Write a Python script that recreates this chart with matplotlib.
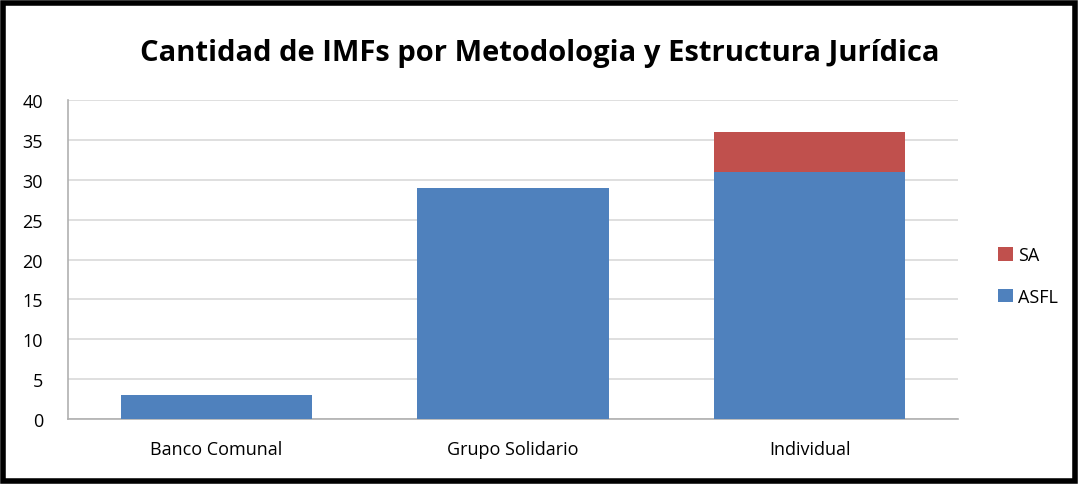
import matplotlib.pyplot as plt
from matplotlib.patches import Rectangle

# data
categories = ["Banco Comunal", "Grupo Solidario", "Individual"]
asfl = [3, 29, 31]
sa = [0, 0, 5]
y_ticks = [0, 5, 10, 15, 20, 25, 30, 35, 40]

BLUE = "#4f81bd"
RED = "#c0504d"
GRID = "#d9d9d9"
FONT = ["Open Sans", "DejaVu Sans"]

plt.rcParams["font.family"] = FONT

fig = plt.figure(figsize=(10.8, 4.85), dpi=100)
ax = fig.add_axes([68 / 1080, 1 - 420 / 485, 890 / 1080, 319 / 485])

x = range(len(categories))
ax.bar(x, asfl, width=0.645, color=BLUE, label="ASFL", zorder=3)
ax.bar(x, sa, width=0.645, bottom=asfl, color=RED, label="SA", zorder=3)

ax.set_xlim(-0.5, 2.5)
ax.set_ylim(0, 40)
ax.set_yticks(y_ticks)
ax.set_xticks(list(x))
ax.set_xticklabels(categories)
ax.tick_params(axis="both", labelsize=13, length=0, colors="#000000")
ax.tick_params(axis="x", pad=15)
ax.tick_params(axis="y", pad=18)
ax.grid(axis="y", color=GRID, linewidth=1.2, zorder=0)
for side in ["top", "right"]:
    ax.spines[side].set_visible(False)
for side in ["left", "bottom"]:
    ax.spines[side].set_color("#b0b0b0")
    ax.spines[side].set_linewidth(1.2)

handles, labels = ax.get_legend_handles_labels()
fig.legend(handles[::-1], labels[::-1], loc="center left",
           bbox_to_anchor=(982 / 1080, 1 - 277 / 485), frameon=False,
           fontsize=13, handlelength=0.8, handleheight=0.8,
           labelspacing=1.3, handletextpad=0.3)

fig.text(0.5, 1 - 53 / 485, "Cantidad de IMFs por Metodologia y Estructura Jurídica",
         ha="center", va="center", fontsize=21, fontweight="bold")

# black frame around the whole chart
fig.patches.append(Rectangle((3 / 1080, 3 / 485), 1072 / 1080, 478 / 485,
                             transform=fig.transFigure, fill=False,
                             edgecolor="black", linewidth=4))

fig.savefig("out.png", dpi=100, facecolor="white")
